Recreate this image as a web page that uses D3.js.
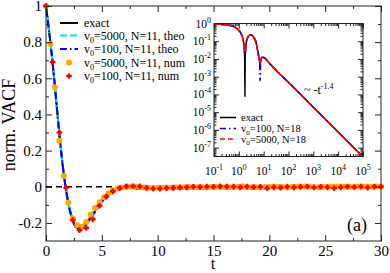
<!DOCTYPE html>
<html><head><meta charset="utf-8">
<script src="https://cdn.jsdelivr.net/npm/d3@7/dist/d3.min.js"></script>
<style>body{margin:0;background:#fff}svg{display:block}svg text{font-family:"Liberation Serif","Times New Roman",serif !important;fill:#000}</style>
</head><body><svg id="c" width="390" height="273"></svg>
<script>
// ---------- main panel data ----------
const mainT      = [0,0.25,0.5,0.75,1,1.25,1.5,1.75,2,2.25,2.5,2.75,3,3.25,3.5,3.75,4,4.5,5,5.5,6,6.5,7,7.5,8,9,10,12,15,20,25,30];
const exactMain  = [1,0.875,0.74,0.585,0.42,0.26,0.115,0.0,-0.09,-0.155,-0.2,-0.225,-0.232,-0.225,-0.21,-0.19,-0.168,-0.122,-0.078,-0.042,-0.018,-0.008,-0.004,-0.005,-0.009,-0.012,-0.012,-0.009,-0.0065,-0.0045,-0.0035,-0.0025];
const theo5000   = [1,0.875,0.74,0.585,0.42,0.26,0.115,0.0,-0.088,-0.15,-0.193,-0.215,-0.222,-0.215,-0.198,-0.177,-0.155,-0.11,-0.068,-0.035,-0.014,-0.006,-0.003,-0.005,-0.009,-0.012,-0.012,-0.009,-0.0065,-0.0045,-0.0035,-0.0025];
const theo100    = [1,0.875,0.74,0.585,0.42,0.26,0.115,0.0,-0.092,-0.16,-0.207,-0.232,-0.24,-0.233,-0.218,-0.198,-0.176,-0.13,-0.085,-0.047,-0.02,-0.009,-0.004,-0.005,-0.009,-0.012,-0.012,-0.009,-0.0065,-0.0045,-0.0035,-0.0025];

const num5000T = [0,0.4,0.8,1.2,1.6,2,2.4,2.8,3.2,3.6,4,4.4,4.8,5.2,5.6,6,6.4,6.8,7.2,7.6,8,8.4,8.8,9.2,9.6,10,10.4,10.8,11.2,11.6,12,12.4,12.8,13.2,13.6,14,14.4,14.8,15.2,15.6,16,16.4,16.8,17.2,17.6,18,18.4,18.8,19.2,19.6,20,20.4,20.8,21.2,21.6,22,22.4,22.8,23.2,23.6,24,24.4,24.8,25.2,25.6,26,26.4,26.8,27.2,27.6,28,28.4,28.8,29.2,29.6,30];
const num5000V = [1,0.79,0.55,0.255,0.06,-0.088,-0.175,-0.213,-0.22,-0.195,-0.155,-0.118,-0.085,-0.058,-0.036,-0.02,-0.01,-0.004,0.0,0.001,0.001,-0.002,-0.004,-0.006,-0.007,-0.006,-0.005,-0.004,-0.004,-0.003,-0.002,-0.002,-0.001,0.0,-0.002,-0.003,-0.002,-0.001,0.0,-0.001,-0.002,-0.002,-0.001,0.0,0.001,-0.001,-0.002,-0.003,-0.002,-0.001,0.0,0.001,0.0,-0.001,-0.002,-0.001,0.0,0.001,0.001,0.0,-0.001,-0.002,-0.001,0.0,0.001,0.002,0.001,0.0,-0.001,0.0,0.001,0.002,0.001,0.0,0.001,0.002];

const num100T = [0,0.6,1.2,1.8,2.4,3,3.6,4.2,4.8,5.4,6,6.6,7.2,7.8,8.4,9,9.6,10.2,10.8,11.4,12,12.6,13.2,13.8,14.4,15,15.6,16.2,16.8,17.4,18,18.6,19.2,19.8,20.4,21,21.6,22.2,22.8,23.4,24,24.6,25.2,25.8,26.4,27,27.6,28.2,28.8,29.4,30];
const num100V = [1,0.69,0.3,-0.005,-0.185,-0.24,-0.228,-0.18,-0.105,-0.055,-0.025,-0.008,0.002,0.003,0.002,-0.006,-0.01,-0.01,-0.007,-0.006,-0.004,-0.003,0.0,-0.002,0.001,-0.001,0.002,0.001,0.001,-0.003,0.001,-0.002,0.0,-0.008,-0.003,-0.005,0.001,-0.003,-0.001,0.001,-0.004,0.0,-0.003,-0.007,-0.003,0.001,-0.002,0.001,-0.005,0.001,0.001];

const xTickLabels = ["0","5","10","15","20","25","30"];
const yTickLabels = ["-0.2","0","0.2","0.4","0.6","0.8","1"];

// ---------- inset data (|VACF|, log-log) ----------
const insetT      = [0.1,0.2,0.3,0.5,0.7,1,1.2,1.4,1.55,1.65,1.72,1.76,1.8,1.9,2,2.3,2.7,3,3.4,4,5,6,6.6,7,7.2,7.5,8,9,10,20,50,100,1000,10000,100000];
const insetExact  = [0.95,0.9,0.85,0.74,0.62,0.42,0.29,0.17,0.09,0.04,0.01,0.00008,0.01,0.045,0.09,0.17,0.22,0.232,0.21,0.168,0.078,0.02,0.01,0.006,0.004,0.007,0.011,0.0125,0.012,0.0045,0.0012,0.00048,0.000019,0.00000076,0.00000003];
const inset100    = [0.95,0.9,0.85,0.74,0.62,0.42,0.29,0.17,0.09,0.04,0.02,0.015,0.02,0.045,0.09,0.17,0.22,0.235,0.213,0.172,0.082,0.022,0.01,0.004,0.0006,0.006,0.011,0.0125,0.012,0.0045,0.0012,0.00048,0.000019,0.00000076,0.00000003];
const inset5000   = [0.95,0.9,0.85,0.74,0.62,0.42,0.29,0.17,0.09,0.045,0.03,0.025,0.03,0.05,0.09,0.17,0.22,0.23,0.208,0.165,0.075,0.019,0.011,0.007,0.005,0.008,0.011,0.0125,0.012,0.0045,0.0012,0.00048,0.000019,0.00000076,0.00000003];
const insetXExp = ["-1","0","1","2","3","4","5"];
const insetYExp = ["0","-1","-2","-3","-4","-5","-6","-7"];

// ---------- drawing ----------
const svg = d3.select("#c");
const x = d3.scaleLinear().domain([0,30]).range([46,381]);
const y = d3.scaleLinear().domain([-0.3,1]).range([241,6]);

const xMaj = xTickLabels.map(Number);
const xMin = [2.5,7.5,12.5,17.5,22.5,27.5];
const yMaj = yTickLabels.map(Number);
const yMin = [-0.1,0.1,0.3,0.5,0.7,0.9];

const gAx = svg.append("g");
function ax(gen, tr, vals, size, labels, pad){
  const a = gen.tickValues(vals).tickSize(size).tickSizeOuter(0).tickPadding(pad||3)
    .tickFormat(labels ? (d,i)=>labels[i] : "");
  const g = gAx.append("g").attr("transform",tr).call(a);
  g.select(".domain").remove();
  g.selectAll("line").attr("stroke","#222").attr("stroke-width",1);
  g.selectAll("text").attr("font-size",15).attr("fill","#000");
  return g;
}
ax(d3.axisBottom(x),"translate(0,241)",xMaj,-6,xTickLabels,4);
ax(d3.axisBottom(x),"translate(0,241)",xMin,-3,null);
ax(d3.axisTop(x),"translate(0,6)",xMaj,-6,null);
ax(d3.axisTop(x),"translate(0,6)",xMin,-3,null);
ax(d3.axisLeft(y),"translate(46,0)",yMaj,-6,yTickLabels,4);
ax(d3.axisLeft(y),"translate(46,0)",yMin,-3,null);
ax(d3.axisRight(y),"translate(381,0)",yMaj,-6,null);
ax(d3.axisRight(y),"translate(381,0)",yMin,-3,null);

svg.append("rect").attr("x",46).attr("y",6).attr("width",335).attr("height",235)
  .attr("fill","none").attr("stroke","#222").attr("stroke-width",1);

// zero line
svg.append("line").attr("x1",x(0)).attr("x2",x(30)).attr("y1",y(0)).attr("y2",y(0))
  .attr("stroke","#000").attr("stroke-width",1.5).attr("stroke-dasharray","6,4");

const lineMain = vals => d3.line().x((d,i)=>x(mainT[i])).y(d=>y(d)).curve(d3.curveMonotoneX)(vals);
svg.append("path").attr("d",lineMain(exactMain)).attr("fill","none").attr("stroke","#000").attr("stroke-width",2);
svg.append("path").attr("d",lineMain(theo5000)).attr("fill","none").attr("stroke","#00e5ee").attr("stroke-width",2).attr("stroke-dasharray","7,3");
svg.append("path").attr("d",lineMain(theo100)).attr("fill","none").attr("stroke","#0000ff").attr("stroke-width",2).attr("stroke-dasharray","7,3,1.5,3");

const orange = "#ffa500", red = "#ff0000";
svg.append("g").selectAll("circle").data(num5000V).join("circle")
  .attr("cx",(d,i)=>x(num5000T[i])).attr("cy",d=>y(d)).attr("r",3).attr("fill",orange);
const star = d3.symbol().type(d3.symbolCross).size(18);
const gRed = svg.append("g");
gRed.selectAll("path").data(num100V).join("path")
  .attr("transform",(d,i)=>`translate(${x(num100T[i])},${y(d)})`).attr("d",star).attr("fill",red);
gRed.selectAll("circle").data(num100V).join("circle")
  .attr("cx",(d,i)=>x(num100T[i])).attr("cy",d=>y(d)).attr("r",2.1).attr("fill",red);

// axis titles
svg.append("text").attr("x",213).attr("y",269).attr("text-anchor","middle").attr("font-size",16).text("t");
svg.append("text").attr("transform","translate(15,125) rotate(-90)").attr("text-anchor","middle").attr("font-size",18).text("norm. VACF");
svg.append("text").attr("x",357).attr("y",231).attr("text-anchor","middle").attr("font-size",18).text("(a)");

// main legend
function vlabel(g, xx, yy, fs, sub, rest){
  const t = g.append("text").attr("x",xx).attr("y",yy).attr("font-size",fs);
  t.append("tspan").text("v");
  t.append("tspan").attr("font-size",fs*0.68).attr("dy",fs*0.25).text(sub);
  t.append("tspan").attr("dy",-fs*0.25).text(rest);
}
const lg = svg.append("g");
const legRows = [23,35.5,49,62.5,76];
lg.append("line").attr("x1",60).attr("x2",78).attr("y1",legRows[0]).attr("y2",legRows[0]).attr("stroke","#000").attr("stroke-width",2);
lg.append("text").attr("x",84).attr("y",legRows[0]+4).attr("font-size",12).text("exact");
lg.append("line").attr("x1",60).attr("x2",78).attr("y1",legRows[1]).attr("y2",legRows[1]).attr("stroke","#00e5ee").attr("stroke-width",2).attr("stroke-dasharray","7,3");
vlabel(lg,84,legRows[1]+4,12,"0","=5000, N=11, theo");
lg.append("line").attr("x1",60).attr("x2",78).attr("y1",legRows[2]).attr("y2",legRows[2]).attr("stroke","#0000ff").attr("stroke-width",2).attr("stroke-dasharray","7,3,1.5,3");
vlabel(lg,84,legRows[2]+4,12,"0","=100, N=11, theo");
lg.append("circle").attr("cx",69).attr("cy",legRows[3]).attr("r",3).attr("fill",orange);
vlabel(lg,84,legRows[3]+4,12,"0","=5000, N=11, num");
lg.append("path").attr("transform",`translate(69,${legRows[4]})`).attr("d",star).attr("fill",red);
lg.append("circle").attr("cx",69).attr("cy",legRows[4]).attr("r",2.1).attr("fill",red);
vlabel(lg,84,legRows[4]+4,12,"0","=100, N=11, num");

// ---------- inset ----------
const xi = d3.scaleLog().domain([0.1,1e5]).range([214,363]);
const yi = d3.scaleLog().domain([Math.pow(10,-7.5),1]).range([156.5,23.5]);
svg.append("rect").attr("x",214).attr("y",23.5).attr("width",149).attr("height",133).attr("fill","#fff");

const xiMaj = insetXExp.map(e=>Math.pow(10,+e));
const xiMin = [];
xiMaj.slice(0,-1).forEach(b=>{for(let k=2;k<10;k++) xiMin.push(b*k);});
const yiMaj = insetYExp.map(e=>Math.pow(10,+e));
const yiMin = [];
[1e-8,1e-7,1e-6,1e-5,1e-4,1e-3,1e-2,1e-1].forEach(b=>{for(let k=2;k<10;k++){const v=b*k; if(v>=Math.pow(10,-7.5)&&v<1) yiMin.push(v);}});

function iax(gen, tr, vals, size){
  const g = gAx.append("g").attr("transform",tr)
    .call(gen.tickValues(vals).tickSize(size).tickSizeOuter(0).tickFormat(""));
  g.select(".domain").remove();
  g.selectAll("line").attr("stroke","#222").attr("stroke-width",1);
}
gAx.raise();
iax(d3.axisBottom(xi),"translate(0,156.5)",xiMaj,-5);
iax(d3.axisBottom(xi),"translate(0,156.5)",xiMin,-2.5);
iax(d3.axisTop(xi),"translate(0,23.5)",xiMaj,-5);
iax(d3.axisTop(xi),"translate(0,23.5)",xiMin,-2.5);
iax(d3.axisLeft(yi),"translate(214,0)",yiMaj,-5);
iax(d3.axisLeft(yi),"translate(214,0)",yiMin,-2.5);
iax(d3.axisRight(yi),"translate(363,0)",yiMaj,-5);
iax(d3.axisRight(yi),"translate(363,0)",yiMin,-2.5);

const lineIn = vals => d3.line().x((d,i)=>xi(insetT[i])).y(d=>yi(d)).curve(d3.curveMonotoneX)(vals);
const gCurves = svg.append("g");
gCurves.append("path").attr("d",lineIn(insetExact)).attr("fill","none").attr("stroke","#000").attr("stroke-width",1.5);
gCurves.append("path").attr("d",lineIn(inset100)).attr("fill","none").attr("stroke","#0000ff").attr("stroke-width",1.6).attr("stroke-dasharray","6,3,1.5,3");
gCurves.append("path").attr("d",lineIn(inset5000)).attr("fill","none").attr("stroke","#ff0000").attr("stroke-width",1.6).attr("stroke-dasharray","8,2");

svg.append("rect").attr("x",214).attr("y",23.5).attr("width",149).attr("height",133)
  .attr("fill","none").attr("stroke","#222").attr("stroke-width",1);

// inset tick labels
const gl = svg.append("g");
insetXExp.forEach((e,i)=>{
  const t = gl.append("text").attr("x",xi(xiMaj[i])).attr("y",175).attr("text-anchor","middle").attr("font-size",11.5);
  t.append("tspan").text("10");
  t.append("tspan").attr("font-size",8).attr("dy",-5).text(e);
});
insetYExp.forEach((e,i)=>{
  const t = gl.append("text").attr("x",211).attr("y",yi(yiMaj[i])+4).attr("text-anchor","end").attr("font-size",11.5);
  t.append("tspan").text("10");
  t.append("tspan").attr("font-size",8).attr("dy",-5).text(e);
});
// power-law annotation
const ann = gl.append("text").attr("x",304).attr("y",94).attr("font-size",12);
ann.append("tspan").text("~ -t");
ann.append("tspan").attr("font-size",8).attr("dy",-5).text("-1.4");

// inset legend
const il = svg.append("g");
const iRows = [117.5,128.5,139];
il.append("line").attr("x1",220).attr("x2",236).attr("y1",iRows[0]).attr("y2",iRows[0]).attr("stroke","#000").attr("stroke-width",1.5);
il.append("text").attr("x",241).attr("y",iRows[0]+3.5).attr("font-size",10.5).text("exact");
il.append("line").attr("x1",220).attr("x2",236).attr("y1",iRows[1]).attr("y2",iRows[1]).attr("stroke","#0000ff").attr("stroke-width",1.6).attr("stroke-dasharray","6,3,1.5,3");
vlabel(il,241,iRows[1]+3.5,10.5,"0","=100, N=18");
il.append("line").attr("x1",220).attr("x2",236).attr("y1",iRows[2]).attr("y2",iRows[2]).attr("stroke","#ff0000").attr("stroke-width",1.6).attr("stroke-dasharray","5,3");
vlabel(il,241,iRows[2]+3.5,10.5,"0","=5000, N=18");
</script></body></html>
